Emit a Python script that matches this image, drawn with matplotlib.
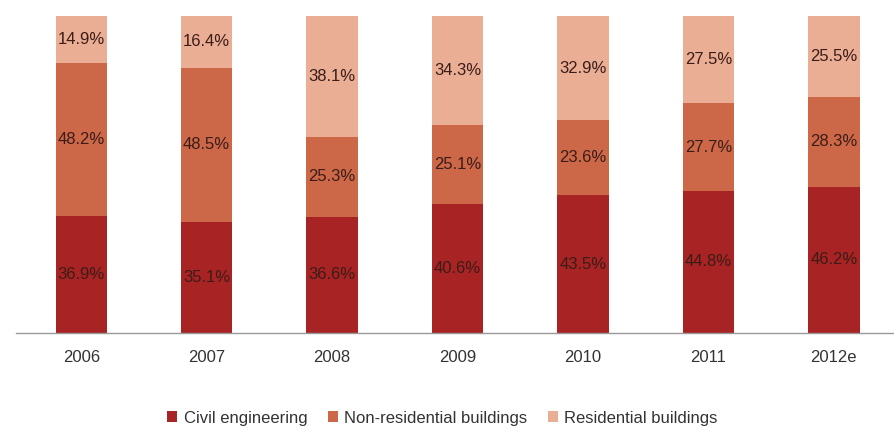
import matplotlib.pyplot as plt
import numpy as np
from matplotlib.patches import Patch

plt.rcParams['font.family'] = ['Liberation Sans', 'DejaVu Sans']

years = ['2006', '2007', '2008', '2009', '2010', '2011', '2012e']
civil = [36.9, 35.1, 36.6, 40.6, 43.5, 44.8, 46.2]
non_residential = [48.2, 48.5, 25.3, 25.1, 23.6, 27.7, 28.3]
residential = [14.9, 16.4, 38.1, 34.3, 32.9, 27.5, 25.5]

series = [
    ('Civil engineering', civil, '#a82323'),
    ('Non-residential buildings', non_residential, '#cc6848'),
    ('Residential buildings', residential, '#eaae94'),
]

fig = plt.figure(figsize=(8.94, 4.28), dpi=100)
ax = fig.add_axes([16 / 894, 1 - 333 / 428, 878 / 894, 317 / 428])

x = np.arange(len(years))
bottom = np.zeros(len(years))
for name, vals, color in series:
    vals = np.array(vals)
    ax.bar(x, vals, width=0.41, bottom=bottom, color=color, linewidth=0)
    # percentage label in the middle of each segment
    for xi, b, v in zip(x, bottom, vals):
        ax.text(xi, b + v / 2, f'{v:.1f}%', ha='center', va='center',
                fontsize=12, color='#3b1c18')
    bottom += vals

ax.set_xlim(-0.52, 6.48)
ax.set_ylim(0, 100)
ax.set_yticks([])
ax.set_xticks(x)
ax.set_xticklabels(years, fontsize=12, color='#333333')
ax.tick_params(axis='x', length=0, pad=12)
for side in ['top', 'right', 'left']:
    ax.spines[side].set_visible(False)
ax.spines['bottom'].set_color('#999999')
ax.spines['bottom'].set_linewidth(1)

handles = [Patch(facecolor=c, label=n) for n, _, c in series]
fig.legend(handles=handles, loc='center', bbox_to_anchor=(0.495, 1 - 418 / 428),
           ncol=3, frameon=False, fontsize=12, handlelength=0.6, handleheight=0.6,
           handletextpad=0.4, columnspacing=1.2, labelcolor='#333333')

plt.savefig('out.png', dpi=100)
